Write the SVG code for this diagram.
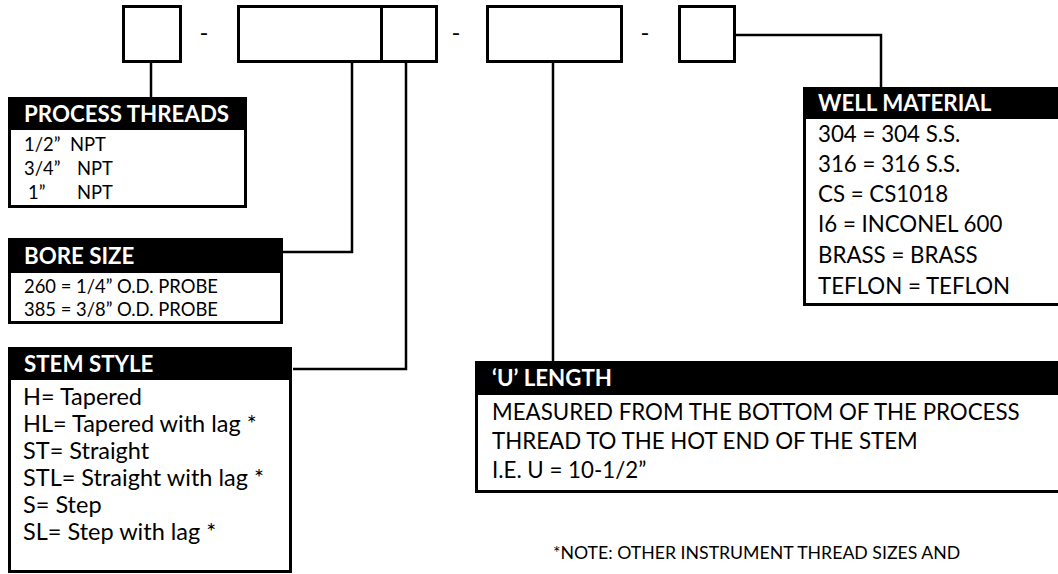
<svg xmlns="http://www.w3.org/2000/svg" width="1058" height="574" viewBox="0 0 1058 574">
<style>
.box{fill:none;stroke:#000;stroke-width:3}
.panel{fill:#fff;stroke:#000;stroke-width:3}
.hdr{fill:#000}
.conn{fill:none;stroke:#000;stroke-width:2.5}
text{font-family:Lato,"Open Sans","Liberation Sans",sans-serif;fill:#000}
.ht{font-weight:bold;font-size:22.3px;fill:#fff}
.b{font-size:23.5px}
.w{font-size:22.3px}
.s{font-size:18.4px}
.dash{font-size:24px;text-anchor:middle}
.note{font-size:17.7px}
</style>
<rect width="1058" height="574" fill="#fff"/>
<g id="code">
  <rect id="box-threads" class="box" x="123.5" y="6.5" width="57" height="55"/>
  <text class="dash" x="204" y="41">-</text>
  <g id="box-bore-stem">
    <rect class="box" x="238.5" y="6.5" width="198" height="55"/>
    <line x1="381.5" y1="6.5" x2="381.5" y2="61.5" stroke="#000" stroke-width="3"/>
  </g>
  <text class="dash" x="456" y="41">-</text>
  <rect id="box-length" class="box" x="487.5" y="6.5" width="134" height="55"/>
  <text class="dash" x="645" y="41">-</text>
  <rect id="box-material" class="box" x="679.5" y="6.5" width="55" height="55"/>
</g>
<g id="connectors">
  <polyline class="conn" points="151,63 151,97"/>
  <polyline class="conn" points="352,63 352,252 283,252"/>
  <polyline class="conn" points="406,63 406,369 293,369"/>
  <polyline class="conn" points="553,63 553,361"/>
  <polyline class="conn" points="736,35 881,35 881,87"/>
</g>
<g id="process-threads">
  <rect class="panel" x="9.5" y="98.5" width="236" height="108"/>
  <rect class="hdr" x="8" y="97" width="239" height="33"/>
  <text class="ht" x="24" y="122">PROCESS THREADS</text>
  <text class="s" x="24" y="151">1/2”<tspan x="70">NPT</tspan></text>
  <text class="s" x="24" y="175">3/4”<tspan x="77">NPT</tspan></text>
  <text class="s" x="28" y="199">1”<tspan x="77">NPT</tspan></text>
</g>
<g id="bore-size">
  <rect class="panel" x="9.5" y="239.5" width="272" height="83"/>
  <rect class="hdr" x="8" y="238" width="275" height="35"/>
  <text class="ht" x="24" y="264">BORE SIZE</text>
  <text class="s" x="24" y="293">260 = 1/4” O.D. PROBE</text>
  <text class="s" x="24" y="316">385 = 3/8” O.D. PROBE</text>
</g>
<g id="stem-style">
  <rect class="panel" x="9.5" y="348.5" width="281" height="223"/>
  <rect class="hdr" x="8" y="347" width="284" height="33"/>
  <text class="ht" x="24" y="372">STEM STYLE</text>
  <text class="b" x="23" y="405">H=  Tapered</text>
  <text class="b" x="23" y="432">HL= Tapered with lag *</text>
  <text class="b" x="23" y="459">ST= Straight</text>
  <text class="b" x="23" y="486">STL= Straight with lag *</text>
  <text class="b" x="23" y="513">S= Step</text>
  <text class="b" x="23" y="540">SL= Step with lag *</text>
</g>
<g id="well-material">
  <rect class="panel" x="804.5" y="88.5" width="262" height="216"/>
  <rect class="hdr" x="803" y="87" width="262" height="32"/>
  <text class="ht" x="818" y="111">WELL MATERIAL</text>
  <text class="w" x="818" y="142">304 = 304 S.S.</text>
  <text class="w" x="818" y="172">316 = 316 S.S.</text>
  <text class="w" x="818" y="202">CS = CS1018</text>
  <text class="w" x="818" y="232">I6 = INCONEL 600</text>
  <text class="w" x="818" y="263">BRASS = BRASS</text>
  <text class="w" x="818" y="294">TEFLON = TEFLON</text>
</g>
<g id="u-length">
  <rect class="panel" x="476.5" y="362.5" width="590" height="129"/>
  <rect class="hdr" x="475" y="361" width="590" height="34"/>
  <text class="ht" x="492" y="386">‘U’ LENGTH</text>
  <text class="w" x="492" y="420">MEASURED FROM THE BOTTOM OF THE PROCESS</text>
  <text class="w" x="492" y="449">THREAD TO THE HOT END OF THE STEM</text>
  <text class="w" x="492" y="478">I.E. U = 10-1/2”</text>
</g>
<text id="note" class="note" x="553" y="559">*NOTE: OTHER INSTRUMENT THREAD SIZES AND</text>
</svg>
